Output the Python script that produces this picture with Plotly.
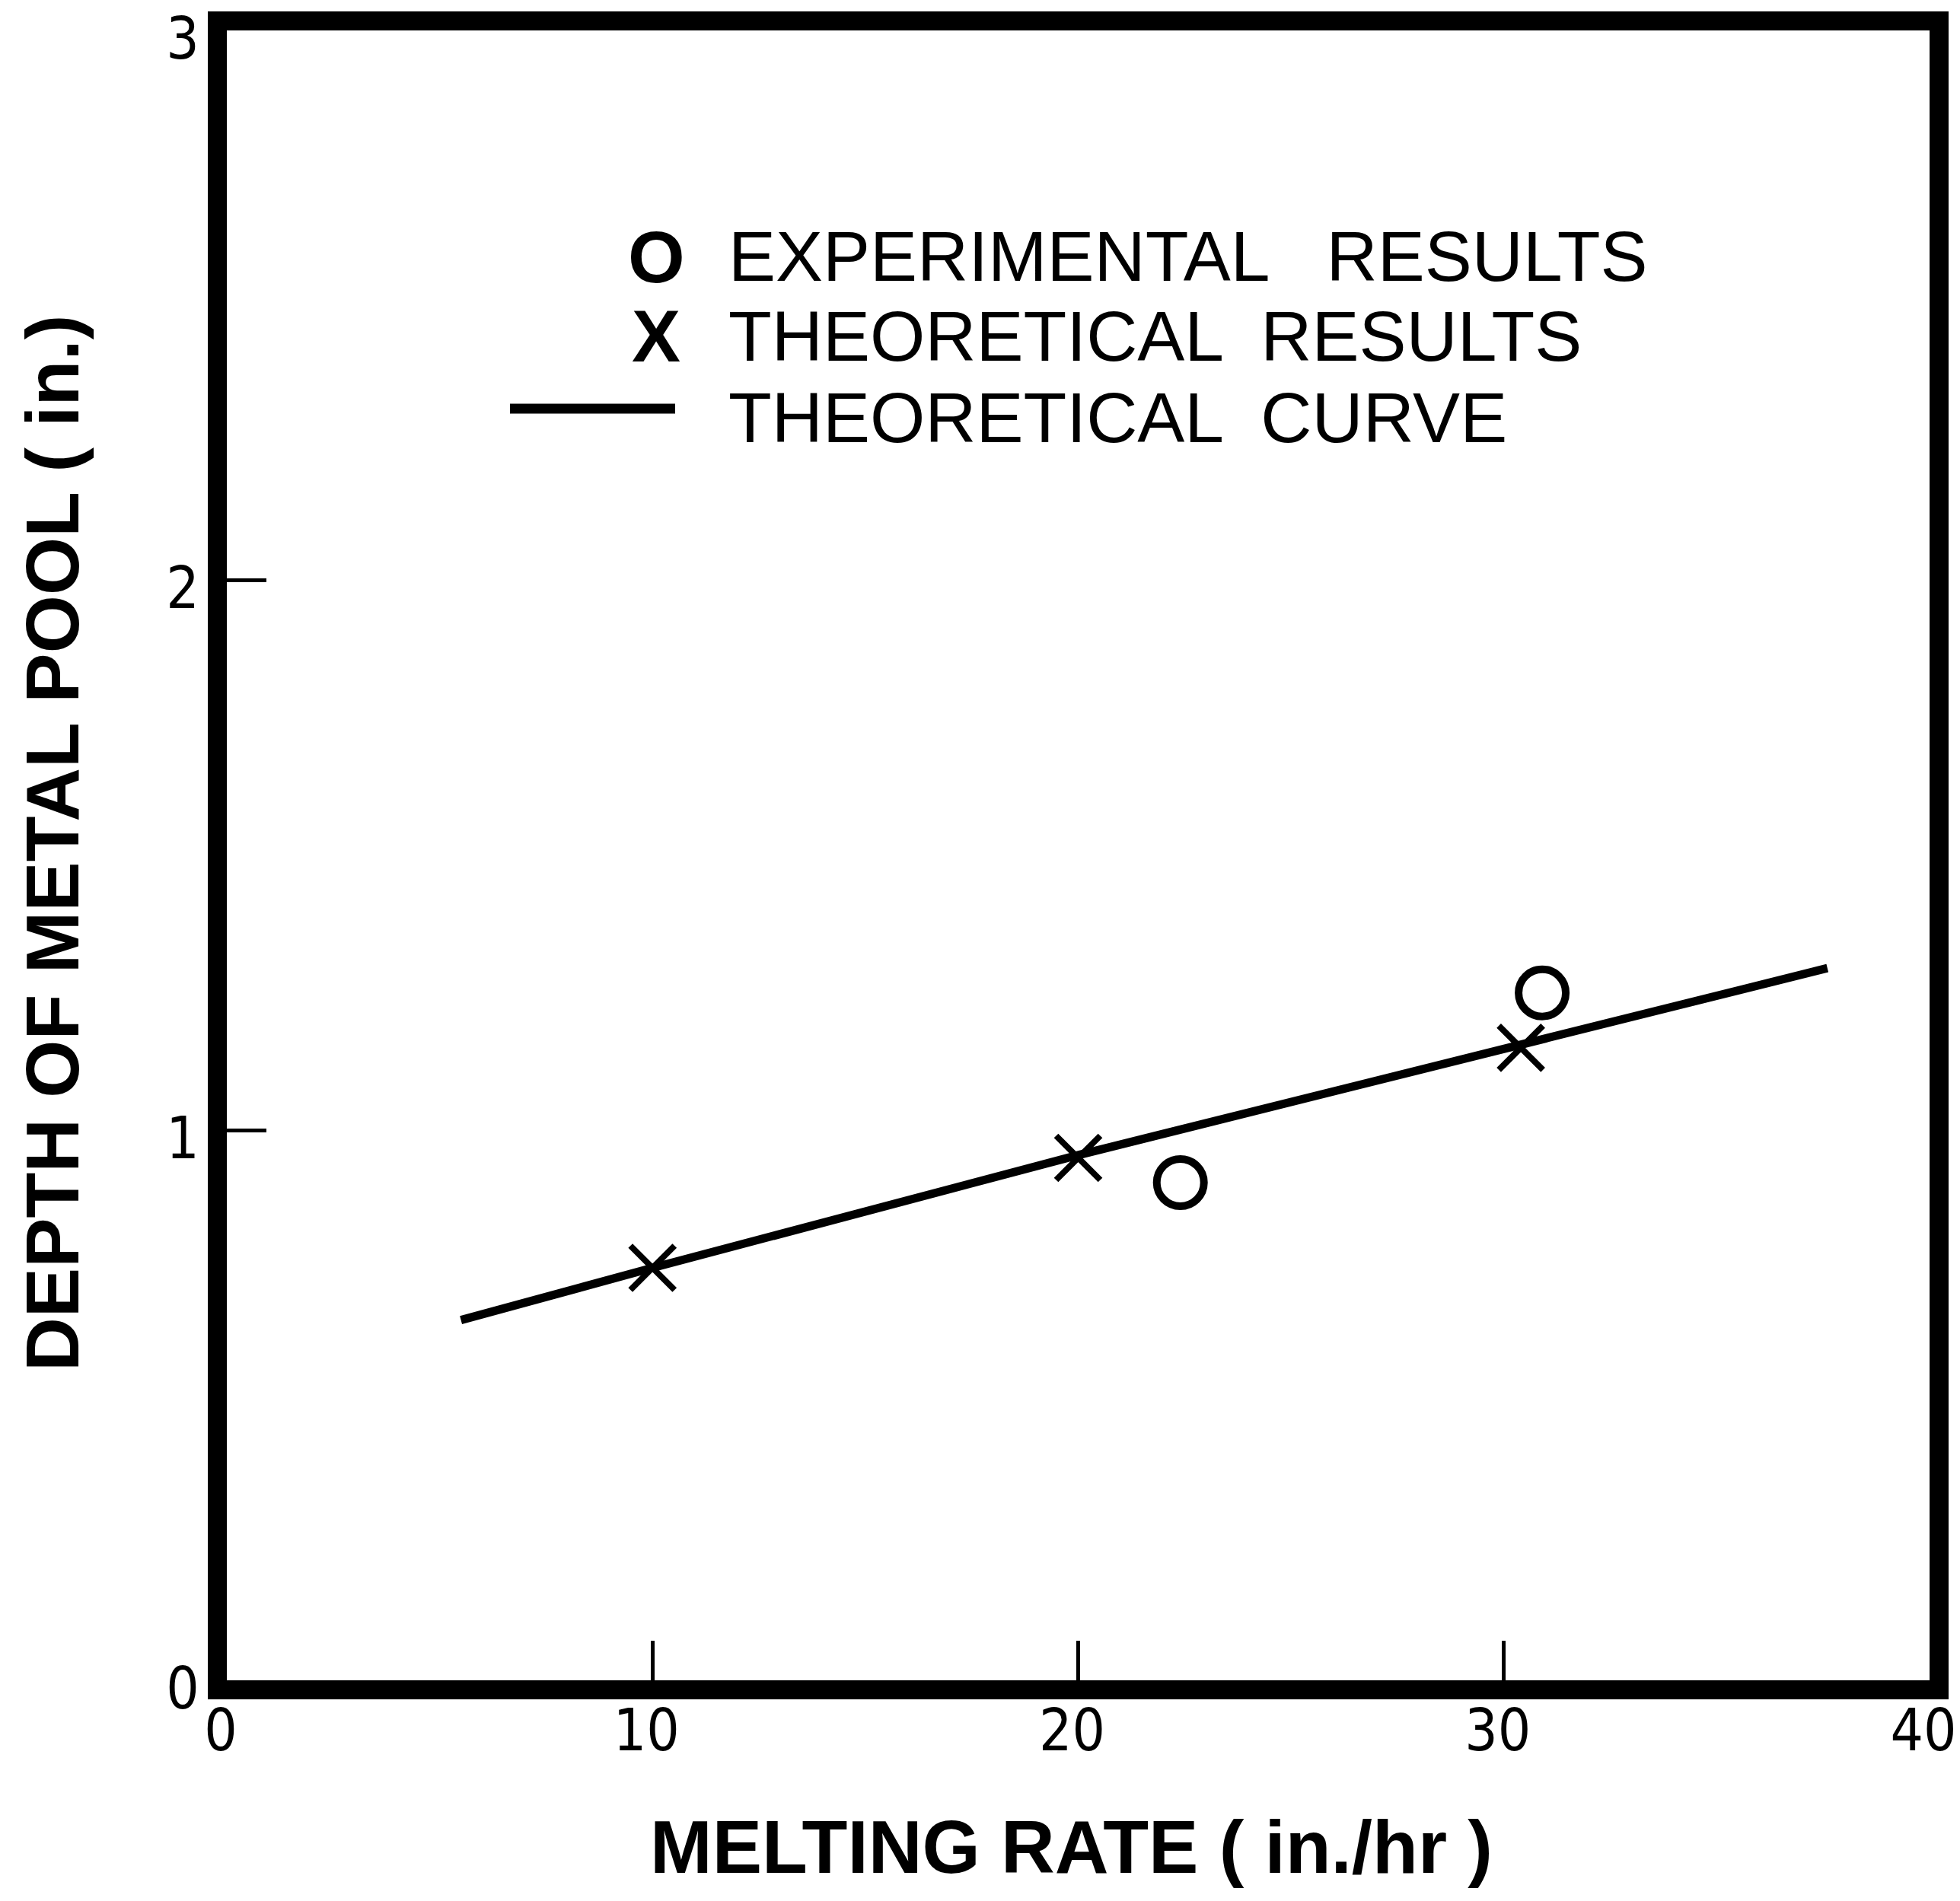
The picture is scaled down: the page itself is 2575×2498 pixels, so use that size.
import plotly.graph_objects as go

# ---- data ----
theory_x = [10, 20, 30.4]
theory_y = [0.75, 0.95, 1.15]

exp_x = [22.4, 30.9]
exp_y = [0.905, 1.25]

curve_x = [5.5, 10, 20, 30.4, 37.6]
curve_y = [0.655, 0.75, 0.955, 1.155, 1.295]

x_ticks = [0, 10, 20, 30, 40]
y_ticks = [0, 1, 2, 3]

legend_labels = ["EXPERIMENTAL   RESULTS", "THEORETICAL  RESULTS", "THEORETICAL  CURVE"]
legend_symbols = ["O", "X", ""]

W, H = 2575, 2498
ML, MR, MT, MB = 298, 40, 40, 290

fig = go.Figure()

fig.add_trace(go.Scatter(
    x=curve_x, y=curve_y, mode="lines",
    line=dict(color="black", width=11),
    showlegend=False, hoverinfo="skip"))

fig.add_trace(go.Scatter(
    x=theory_x, y=theory_y, mode="markers",
    marker=dict(symbol="x-thin-open", size=58, color="black",
                line=dict(color="black", width=8)),
    showlegend=False))

fig.add_trace(go.Scatter(
    x=exp_x, y=exp_y, mode="markers",
    marker=dict(symbol="circle-open", size=62, color="black",
                line=dict(color="black", width=10)),
    showlegend=False))

tick_font = dict(family="Liberation Sans Narrow, DejaVu Sans Condensed, sans-serif",
                 size=76, color="black")

common = dict(
    showline=True, linewidth=25, linecolor="black", mirror=True,
    ticks="inside", ticklen=52, tickwidth=5, tickcolor="black",
    showgrid=False, zeroline=False, tickfont=tick_font,
    ticklabeloverflow="allow", automargin=False)

fig.update_xaxes(range=[0, 40], tickvals=x_ticks,
                 ticktext=[str(v) for v in x_ticks],
                 ticklabelshift=-8, ticklabelstandoff=-24, **common)
fig.update_yaxes(range=[0, 3], tickvals=y_ticks,
                 ticktext=[str(v) for v in y_ticks],
                 ticklabelshift=10, ticklabelstandoff=-4, **common)

pw = W - ML - MR
ph = H - MT - MB

def px(xf):
    return (xf - ML) / pw

def py(yf):
    return (H - MB - yf) / ph

annotations = []
# axis titles
annotations.append(dict(
    text="MELTING RATE ( in./hr )", xref="paper", yref="paper",
    x=px(1407), y=py(2427), showarrow=False, xanchor="center", yanchor="middle",
    font=dict(family="Liberation Sans, Arial, sans-serif", size=98, color="black",
              weight="bold")))
annotations.append(dict(
    text="DEPTH OF METAL POOL ( in.)", xref="paper", yref="paper",
    x=px(69), y=py(1108), showarrow=False, xanchor="center", yanchor="middle",
    textangle=-90,
    font=dict(family="Liberation Sans, Arial, sans-serif", size=98, color="black",
              weight="bold")))

legend_font = dict(family="Liberation Sans, Arial, sans-serif", size=93, color="black")
symbol_font = dict(family="Liberation Sans, Arial, sans-serif", size=96, color="black",
                   weight="bold")
row_y = [337, 442, 549]
for lab, sym, ry in zip(legend_labels, legend_symbols, row_y):
    annotations.append(dict(
        text=lab, xref="paper", yref="paper", x=px(955), y=py(ry),
        showarrow=False, xanchor="left", yanchor="middle", font=legend_font))
    if sym:
        annotations.append(dict(
            text=sym, xref="paper", yref="paper", x=px(862), y=py(ry),
            showarrow=False, xanchor="center", yanchor="middle", font=symbol_font))

shapes = [dict(type="line", xref="paper", yref="paper",
               x0=px(670), x1=px(887), y0=py(537), y1=py(537),
               line=dict(color="black", width=13))]

fig.update_layout(
    width=W, height=H,
    margin=dict(l=ML, r=MR, t=MT, b=MB),
    paper_bgcolor="white", plot_bgcolor="white",
    annotations=annotations, shapes=shapes,
    showlegend=False)

fig.write_html("out.html")
